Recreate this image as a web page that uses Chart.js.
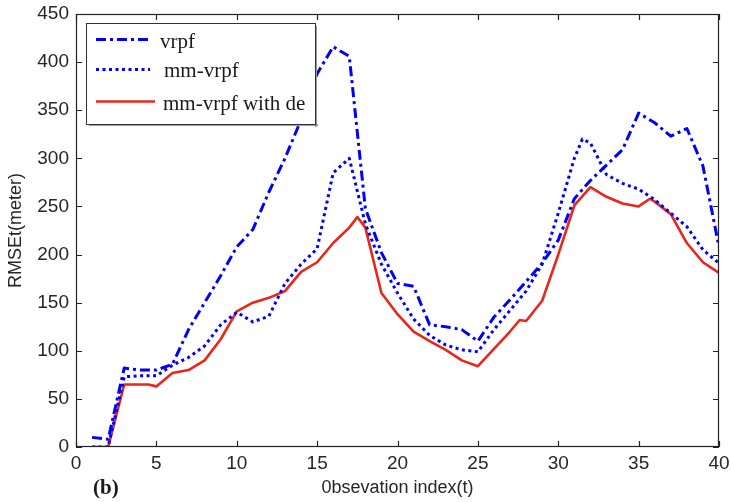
<!DOCTYPE html>
<html><head><meta charset="utf-8">
<style>html,body{margin:0;padding:0;background:#fff;}</style>
<script src="https://cdn.jsdelivr.net/npm/chart.js@4.4.0/dist/chart.umd.min.js"></script>
</head><body>
<canvas id="c" width="731" height="502"></canvas>
<script>
// ---- data ----
const seriesNames = ['vrpf', 'mm-vrpf', 'mm-vrpf with de'];

const vrpfX = [1,2,3,4,5,6,7,8,9,10,11,12,13,14,15,16,17,18,19,20,21,22,23,24,25,26,27,28,29,30,31,32,33,34,35,36,37,38,39,40];
const vrpfY = [10,8,82,80,80,86,122,150,178,208,226,265,300,340,388,416,406,248,202,170,167,127,125,122,110,135,153,172,191,215,258,277,293,309,347,337,323,331,292,208];

const mmX = [1,2,3,4,5,6,7,8,9,10,11,12,13,14,15,16,17,18,19,20,21,22,23,24,25,26,27,28,29,30,31,31.5,32,33,34,35,36,37,38,39,40];
const mmY = [0,0,73,74,74,85,93,105,127,140,130,136,170,190,206,285,300,232,190,160,133,116,106,101,99,122,142,162,190,243,300,320,316,283,274,268,257,243,229,205,191];

const deX = [1,2,3,4,4.5,5,6,7,8,9,10,11,12,13,14,15,16,17,17.5,18,19,20,21,22,23,24,25,26,27,27.6,28,29,30,31,32,33,34,35,35.7,36,37,38,39,40];
const deY = [0,0,65,65,65,63,77,80,90,112,141,150,155,162,182,192,212,228,239,228,160,138,120,110,101,90,84,102,120,132,131,152,200,251,270,260,253,250,258,255,242,212,192,181];

const xTickStep = 5, xMin = 0, xMax = 40;
const yTickStep = 50, yMin = 0, yMax = 450;
const xTitle = '0bsevation index(t)';
const yTitle = 'RMSEt(meter)';
const panelLabel = '(b)';

function pts(xs, ys){ return xs.map((x,i)=>({x:x, y:ys[i]})); }

const BLUE = '#0000ff', RED = '#e8261a';
const styles = [
  {color:BLUE, width:3, dash:[10,4,3,4]},
  {color:BLUE, width:3, dash:[3,3.5]},
  {color:RED, width:2.6, dash:[]}
];

const textColor = '#262626';
const tickFont = {family:'Liberation Sans', size:19};
const titleFont = {family:'Liberation Sans', size:18};

const framePlugin = {
  id:'frame',
  afterDatasetsDraw(chart){
    const {ctx, chartArea:a, scales:{x, y}} = chart;
    ctx.save();
    ctx.strokeStyle = '#222';
    ctx.lineWidth = 1.2;
    ctx.setLineDash([]);
    ctx.strokeRect(Math.round(a.left)+0.5, Math.round(a.top)+0.5, Math.round(a.right-a.left)-1, Math.round(a.bottom-a.top)-1);
    const L = 6;
    ctx.beginPath();
    x.ticks.forEach(t=>{
      const px = Math.round(x.getPixelForValue(t.value))+0.5;
      ctx.moveTo(px, a.bottom); ctx.lineTo(px, a.bottom-L);
      ctx.moveTo(px, a.top); ctx.lineTo(px, a.top+L);
    });
    y.ticks.forEach(t=>{
      const py = Math.round(y.getPixelForValue(t.value))+0.5;
      ctx.moveTo(a.left, py); ctx.lineTo(a.left+L, py);
      ctx.moveTo(a.right, py); ctx.lineTo(a.right-L, py);
    });
    ctx.stroke();
    ctx.restore();
  }
};

const legendPlugin = {
  id:'boxLegend',
  afterDraw(chart){
    const ctx = chart.ctx;
    const bx = 86, by = 23, bw = 229, bh = 101;
    ctx.save();
    // shadow
    ctx.fillStyle = '#9a9a9a';
    ctx.fillRect(bx+3, by+bh, bw, 2);
    ctx.fillRect(bx+bw, by+3, 2, bh);
    ctx.fillStyle = '#fff';
    ctx.fillRect(bx, by, bw, bh);
    ctx.strokeStyle = '#333';
    ctx.lineWidth = 1;
    ctx.strokeRect(bx+0.5, by+0.5, bw, bh);
    const rows = [
      {ly:39.5, ty:42, tx:160, x2:150},
      {ly:69.5, ty:71, tx:164, x2:150},
      {ly:101.5, ty:104, tx:163, x2:155}
    ];
    chart.data.datasets.forEach((ds, i)=>{
      const r = rows[i];
      ctx.strokeStyle = ds.borderColor;
      ctx.lineWidth = ds.borderWidth;
      ctx.setLineDash(ds.borderDash || []);
      ctx.beginPath();
      ctx.moveTo(96, r.ly); ctx.lineTo(r.x2, r.ly);
      ctx.stroke();
      ctx.setLineDash([]);
      ctx.fillStyle = '#1a1a1a';
      ctx.font = '21px "Liberation Serif"';
      ctx.textBaseline = 'middle';
      ctx.textAlign = 'left';
      ctx.fillText(ds.label, r.tx, r.ty);
    });
    // panel label
    ctx.fillStyle = '#1a1a1a';
    ctx.font = 'bold 21px "Liberation Serif"';
    ctx.textBaseline = 'middle';
    ctx.fillText(panelLabel, 93, 489);
    ctx.restore();
  }
};

new Chart(document.getElementById('c'), {
  type:'line',
  data:{
    datasets:[
      {label:seriesNames[0], data:pts(vrpfX, vrpfY)},
      {label:seriesNames[1], data:pts(mmX, mmY)},
      {label:seriesNames[2], data:pts(deX, deY)}
    ].map((d,i)=>Object.assign(d, {
      borderColor:styles[i].color, borderWidth:styles[i].width, borderDash:styles[i].dash,
      pointRadius:0, tension:0, fill:false, borderJoinStyle:'round'
    }))
  },
  options:{
    responsive:false,
    animation:false,
    layout:{padding:{top:14, right:12, left:0, bottom:0}},
    plugins:{legend:{display:false}, tooltip:{enabled:false}},
    scales:{
      x:{
        type:'linear', min:xMin, max:xMax,
        ticks:{stepSize:xTickStep, font:tickFont, color:textColor, padding:5, maxRotation:0, autoSkip:false},
        grid:{display:false, drawTicks:false},
        border:{display:false},
        title:{display:true, text:xTitle, font:titleFont, color:textColor, padding:{top:0, bottom:3}},
        afterFit(s){ s.height = 55; s.paddingLeft = 0; s.paddingRight = 0; }
      },
      y:{
        type:'linear', min:yMin, max:yMax,
        ticks:{stepSize:yTickStep, font:tickFont, color:textColor, padding:7, autoSkip:false},
        grid:{display:false, drawTicks:false},
        border:{display:false},
        title:{display:true, text:yTitle, font:titleFont, color:textColor, padding:{top:5, bottom:0}},
        afterFit(s){ s.width = 76; s.paddingTop = 0; s.paddingBottom = 0; }
      }
    }
  },
  plugins:[framePlugin, legendPlugin]
});
</script>
</body></html>
